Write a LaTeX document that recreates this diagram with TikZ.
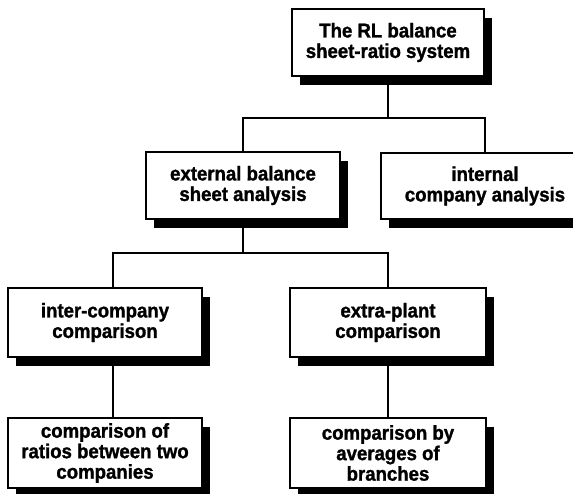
\documentclass[tikz,border=0pt]{standalone}
\usepackage{fontspec}
\setmainfont{Liberation Sans}[BoldFeatures={FakeBold=1.3,FakeStretch=0.93}]
\usetikzlibrary{shadows,calc}
\begin{document}
\begin{tikzpicture}[x=1pt,y=1pt,
  box/.style={draw=black, line width=1.4pt, fill=white, align=center,
    inner sep=0pt, font=\fontsize{20}{20.5}\selectfont\bfseries,
    drop shadow={shadow xshift=8pt, shadow yshift=-9pt, fill=black, opacity=1}},
  link/.style={draw=black, line width=1.4pt}]
\clip (0,0) rectangle (573,493);
\fill[white] (0,0) rectangle (573,493);

% level 0
\node[box, minimum width=192pt, minimum height=67pt] (root) at (388,450.5)
  {The RL balance\\sheet-ratio system};

% level 1
\node[box, minimum width=194pt, minimum height=67pt] (ext) at (243,307.5)
  {external balance\\sheet analysis};
\node[box, minimum width=208pt, minimum height=66pt] (int) at (485,307)
  {internal\\company analysis};

% level 2
\node[box, minimum width=194pt, minimum height=69pt] (inter) at (105,170.5)
  {inter-company\\comparison};
\node[box, minimum width=196pt, minimum height=69pt] (extra) at (388,170.5)
  {extra-plant\\comparison};

% level 3
\node[box, minimum width=194pt, minimum height=70pt] (ratios) at (105,40)
  {comparison of\\ratios between two\\companies};
\node[box, minimum width=196pt, minimum height=70pt] (avg) at (388,40)
  {comparison by\\averages of\\branches};

% junction points of the tree lines
\coordinate (j1) at (388,375);
\coordinate (j2) at (243,240);
\coordinate (interTop) at ($(inter.north)+(8,0)$);
\coordinate (interBot) at ($(inter.south)+(8,0)$);
\coordinate (ratiosTop) at ($(ratios.north)+(8,0)$);

% connectors
\draw[link] (root.south) -- (j1);
\draw[link] (ext.north) |- (j1) -| (int.north);
\draw[link] (ext.south) -- (j2);
\draw[link] (interTop) |- (j2) -| (extra.north);
\draw[link] (interBot) -- (ratiosTop);
\draw[link] (extra.south) -- (avg.north);
\end{tikzpicture}
\end{document}
